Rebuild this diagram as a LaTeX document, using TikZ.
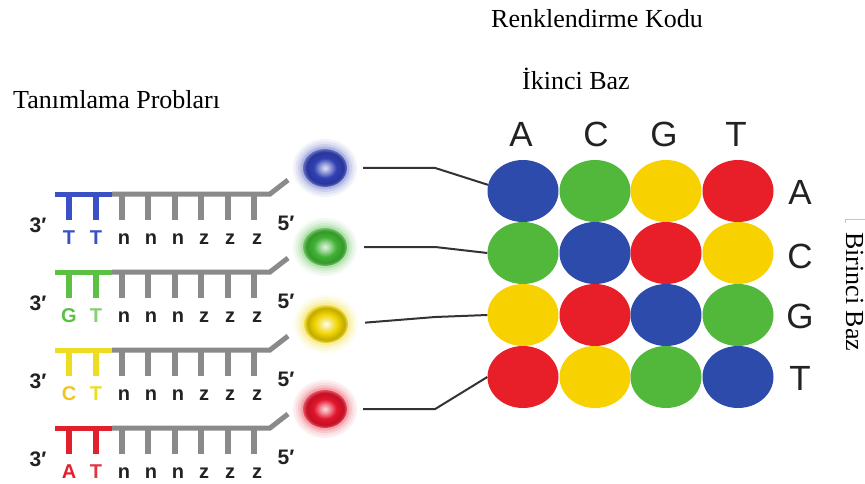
\documentclass[tikz,border=0pt]{standalone}
\usepackage{fontspec}
\setmainfont{Liberation Serif}
\newfontfamily\sansf{Liberation Sans}
\usetikzlibrary{shapes.geometric}
\definecolor{gB}{HTML}{2D4BAA}
\definecolor{gG}{HTML}{52B83C}
\definecolor{gY}{HTML}{F8D200}
\definecolor{gR}{HTML}{E81E28}
\definecolor{pB}{HTML}{3A50C4}
\definecolor{pG}{HTML}{5CC043}
\definecolor{pY}{HTML}{EEDC22}
\definecolor{pR}{HTML}{E0202C}
\definecolor{bone}{HTML}{8A8A8A}
\definecolor{ink}{HTML}{222222}
\definecolor{wire}{HTML}{333333}
\definecolor{kB}{HTML}{3040B4}
\definecolor{kG}{HTML}{3FB232}
\definecolor{kY}{HTML}{F0D400}
\definecolor{kR}{HTML}{E2142C}
\pgfdeclareradialshading{beadB}{\pgfpointorigin}{color(0bp)=(white!85!kB); color(5bp)=(white!55!kB); color(13bp)=(kB); color(21bp)=(kB!85!black); color(25bp)=(kB!75!white); color(50bp)=(kB!75!white)}
\pgfdeclareradialshading{beadG}{\pgfpointorigin}{color(0bp)=(white!85!kG); color(5bp)=(white!55!kG); color(13bp)=(kG); color(21bp)=(kG!85!black); color(25bp)=(kG!75!white); color(50bp)=(kG!75!white)}
\pgfdeclareradialshading{beadY}{\pgfpointorigin}{color(0bp)=(white); color(5bp)=(white!55!kY); color(13bp)=(kY); color(21bp)=(kY!80!black); color(25bp)=(kY!75!white); color(50bp)=(kY!75!white)}
\pgfdeclareradialshading{beadR}{\pgfpointorigin}{color(0bp)=(white!85!kR); color(5bp)=(white!55!kR); color(13bp)=(kR); color(21bp)=(kR!85!black); color(25bp)=(kR!75!white); color(50bp)=(kR!75!white)}
\tikzset{
  cell/.style={ellipse, minimum width=71pt, minimum height=62pt, inner sep=0pt, fill=#1},
  bead/.style args={#1/#2}{ellipse, minimum width=44pt, minimum height=38pt, inner sep=0pt,
     preaction={draw=#1!7, line width=20pt}, preaction={draw=#1!14, line width=15pt},
     preaction={draw=#1!24, line width=10pt}, preaction={draw=#1!38, line width=5pt},
     shade, shading=#2},
  hdr/.style={font=\sansf\fontsize{35}{35}\selectfont, text=ink, inner sep=0pt},
  title/.style={font=\fontsize{26}{26}\selectfont, text=black, inner sep=0pt, anchor=base west},
  plet/.style={font=\sansf\bfseries\fontsize{20}{20}\selectfont, inner sep=0pt, anchor=base},
  prim/.style={font=\sansf\bfseries\fontsize{21}{21}\selectfont, text=ink, inner sep=0pt},
  wireline/.style={draw=wire, line width=2pt},
  bonel/.style={line width=5pt},
  tooth/.style={line width=6.5pt}
}
\begin{document}
\begin{tikzpicture}[x=1pt, y=-1pt]
\useasboundingbox (0,0) rectangle (865,484);
\fill[white] (0,0) rectangle (865,484);
% titles
\node[title] (t1) at (491,28) {Renklendirme Kodu};
\node[title] (t2) at (522,90) {İkinci Baz};
\node[title] (t3) at (13,109) {Tanımlama Probları};
\node[title, rotate=-90] (t4) at (846,232) {Birinci Baz};
\draw[gray!45, line width=1pt] (845,223) -- (845,219) -- (866,219);
% probes
\foreach \b/\c/\L/\lc/\tc [count=\i] in {194/pB/T/pB/pB, 272/pG/G/pG/pG!75, 350/pY/C/pY!75!orange/pY, 428/pR/A/pR/pR!90}{
  \draw[bone, bonel] (112,\b) -- (270,\b) -- (288,\b-14);
  \draw[\c, bonel] (55,\b) -- (112,\b);
  \foreach \x in {122,148,175,201,228,254}{\draw[bone, tooth] (\x,\b) -- (\x,\b+26);}
  \foreach \x in {69,96}{\draw[\c, tooth] (\x,\b) -- (\x,\b+26);}
  \node[plet, text=\lc] (l\i a) at (69,\b+50) {\L};
  \node[plet, text=\tc] (l\i b) at (96,\b+50) {T};
  \node[plet, text=ink] (l\i c) at (124,\b+50) {n};
  \node[plet, text=ink] (l\i d) at (151,\b+50) {n};
  \node[plet, text=ink] (l\i e) at (178,\b+50) {n};
  \node[plet, text=ink] (l\i f) at (204,\b+50) {z};
  \node[plet, text=ink] (l\i g) at (230,\b+50) {z};
  \node[plet, text=ink] (l\i h) at (257,\b+50) {z};
  \node[prim] (p\i t) at (38,\b+31) {3′};
  \node[prim] (p\i f) at (286,\b+29) {5′};
}
% beads
\node[bead=kB/beadB] (k1) at (325,168) {};
\node[bead=kG/beadG] (k2) at (325,247) {};
\node[bead=kY/beadY] (k3) at (326,324) {};
\node[bead=kR/beadR] (k4) at (325,409) {};
% grid
\node[cell=gB] (c11) at (523,191) {};
\node[cell=gG] (c12) at (595,191) {};
\node[cell=gY] (c13) at (666,191) {};
\node[cell=gR] (c14) at (738,191) {};
\node[cell=gG] (c21) at (523,253) {};
\node[cell=gB] (c22) at (595,253) {};
\node[cell=gR] (c23) at (666,253) {};
\node[cell=gY] (c24) at (738,253) {};
\node[cell=gY] (c31) at (523,315) {};
\node[cell=gR] (c32) at (595,315) {};
\node[cell=gB] (c33) at (666,315) {};
\node[cell=gG] (c34) at (738,315) {};
\node[cell=gR] (c41) at (523,377) {};
\node[cell=gY] (c42) at (595,377) {};
\node[cell=gG] (c43) at (666,377) {};
\node[cell=gB] (c44) at (738,377) {};
% headers
\node[hdr] (h1) at (521,134) {A};
\node[hdr] (h2) at (596,134) {C};
\node[hdr] (h3) at (664,134) {G};
\node[hdr] (h4) at (736,134) {T};
\node[hdr] (r1) at (800,192) {A};
\node[hdr] (r2) at (800,256) {C};
\node[hdr] (r3) at (800,316) {G};
\node[hdr] (r4) at (800,378) {T};
% connectors
\draw[wireline, shorten <=16pt] (k1.east) -- ++(88,0) -- (c11.170);
\draw[wireline, shorten <=17pt] (k2.east) -- ++(88,0) -- (c21.west);
\draw[wireline, shorten <=17pt] (k3.east) -- ++(87,-7) -- (c31.west);
\draw[wireline, shorten <=16pt] (k4.east) -- ++(88,0) -- (c41.west);
\end{tikzpicture}
\end{document}
